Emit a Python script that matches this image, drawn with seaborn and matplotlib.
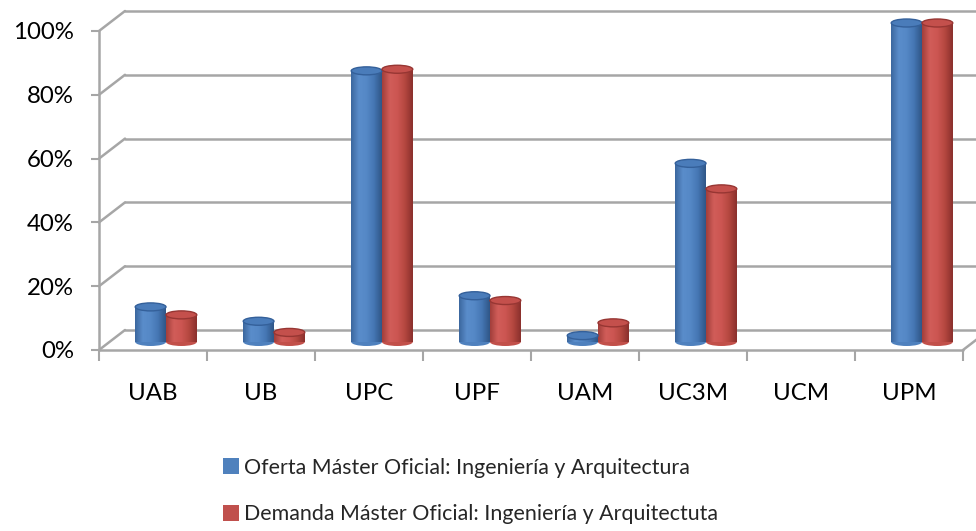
import numpy as np
import pandas as pd
import matplotlib
matplotlib.use("Agg")
import matplotlib.pyplot as plt
import seaborn as sns
from matplotlib.transforms import ScaledTranslation
from matplotlib.patches import Ellipse
from matplotlib.colors import LinearSegmentedColormap

universidades = ["UAB", "UB", "UPC", "UPF", "UAM", "UC3M", "UCM", "UPM"]
oferta = [11, 6.5, 85, 14.5, 2, 56, 0, 100]
demanda = [8.5, 3, 85.5, 13, 6, 48, 0, 100]
series = ["Oferta Máster Oficial: Ingeniería y Arquitectura",
          "Demanda Máster Oficial: Ingeniería y Arquitectuta"]
yticks = [0, 20, 40, 60, 80, 100]
ytick_labels = ["0%", "20%", "40%", "60%", "80%", "100%"]

df = pd.DataFrame({
    "Universidad": universidades * 2,
    "Valor": oferta + demanda,
    "Serie": [series[0]] * len(universidades) + [series[1]] * len(universidades),
})

sns.set_theme(style="white")
plt.rcParams['font.family'] = ['Lato', 'DejaVu Sans']

DPI = 100
W, H = 976, 531
fig = plt.figure(figsize=(W / DPI, H / DPI), dpi=DPI)
x0, x1, ytop, ybot = 99, 963, 31, 350
ax = fig.add_axes([x0 / W, (H - ybot) / H, (x1 - x0) / W, (ybot - ytop) / H])

blue, red = "#4F81BD", "#C0504D"
sns.barplot(data=df, x="Universidad", y="Valor", hue="Serie", order=universidades,
            hue_order=series, palette=[blue, red], width=0.57, saturation=1,
            errorbar=None, ax=ax, linewidth=0)
handles, labels = ax.get_legend_handles_labels()
if ax.get_legend() is not None:
    ax.get_legend().remove()

ax.set_xlim(-0.5, len(universidades) - 0.5)
ax.set_ylim(0, 100)
for s in ax.spines.values():
    s.set_visible(False)
ax.grid(False)
ax.set_xlabel("")
ax.set_ylabel("")

grid_c = "#A6A6A6"
back = ax.transData + ScaledTranslation(26 / DPI, 20 / DPI, fig.dpi_scale_trans)
mid = ax.transData + ScaledTranslation(13 / DPI, 8 / DPI, fig.dpi_scale_trans)
xl, xr = -0.5, len(universidades) - 0.5

for v in yticks:
    ax.plot([xl, xr], [v, v], color=grid_c, lw=1.8, transform=back, clip_on=False, zorder=0.5)
for v in yticks:
    p0 = ax.transData.transform((xl, v))
    p1 = back.transform((xl, v))
    fig.add_artist(plt.Line2D([p0[0] / W, p1[0] / W], [p0[1] / H, p1[1] / H],
                              color=grid_c, lw=1.8, transform=fig.transFigure, zorder=0.5))
ax.plot([xl, xr], [0, 0], color=grid_c, lw=1.8, clip_on=False, zorder=0.6)
ax.plot([xl, xl], [0, 100], color=grid_c, lw=1.8, clip_on=False, zorder=0.6)
p0 = ax.transData.transform((xr, 0))
p1 = back.transform((xr, 0))
fig.add_artist(plt.Line2D([p0[0] / W, p1[0] / W], [p0[1] / H, p1[1] / H],
                          color=grid_c, lw=1.8, transform=fig.transFigure, zorder=0.5))

cyl_cmaps = {
    blue: LinearSegmentedColormap.from_list("b", ["#3B679E", "#5A8DCB", "#5588C6", "#4576B3", "#2F5687"]),
    red: LinearSegmentedColormap.from_list("r", ["#A23E3B", "#D15D59", "#CC5652", "#B4473F", "#8A302D"]),
}
cap_cols = {blue: ("#4A7CBA", "#34609A"), red: ("#C4504C", "#973633")}
ppx = (ybot - ytop) / 100.0
cap_h = 8 / ppx
grad = np.linspace(0, 1, 64).reshape(1, -1)
for cont, col in zip(ax.containers, [blue, red]):
    for bar in cont:
        h = bar.get_height()
        if h is None or h <= 0:
            bar.set_visible(False)
            continue
        bx, bw = bar.get_x(), bar.get_width()
        bar.set_transform(mid)
        bar.set_facecolor(col)
        bar.set_zorder(2)
        bar.set_clip_on(False)
        im = ax.imshow(grad, cmap=cyl_cmaps[col], aspect="auto",
                       extent=(bx, bx + bw, 0, h), transform=mid, zorder=2.1,
                       interpolation="bicubic")
        im.set_clip_path(bar)
        im.set_clip_box(fig.bbox)
        e0 = Ellipse((bx + bw / 2, 0), bw, cap_h, transform=mid,
                     facecolor=cyl_cmaps[col](0.6), edgecolor="none", zorder=1.9)
        e1 = Ellipse((bx + bw / 2, h), bw, cap_h, transform=mid,
                     facecolor=cap_cols[col][0], edgecolor=cap_cols[col][1],
                     lw=1.0, zorder=2.3)
        for e in (e0, e1):
            ax.add_patch(e)
            e.set_clip_on(False)

ax.set_xlim(-0.5, len(universidades) - 0.5)
ax.set_ylim(0, 100)

ax.set_yticks(yticks)
ax.set_yticklabels(ytick_labels)
ax.set_xticks(range(len(universidades)))
ax.set_xticklabels(universidades)
ax.set_xticks(np.arange(-0.5, len(universidades)), minor=True)
ax.tick_params(axis="y", which="major", left=True, length=6, width=1.5, color=grid_c,
               pad=12, labelsize=17.3, labelcolor="black")
ax.tick_params(axis="x", which="major", bottom=False, length=0, pad=24, labelsize=17.3,
               labelcolor="black")
ax.tick_params(axis="x", which="minor", bottom=True, length=8, width=1.5, color=grid_c)

fig.legend(handles, labels, loc="center left", bbox_to_anchor=(223 / W, (H - 491) / H),
           frameon=False, fontsize=15.4, handlelength=0.75, handleheight=0.75,
           handletextpad=0.25, labelspacing=1.25, borderpad=0, borderaxespad=0)

fig.savefig("out.png", dpi=DPI)
